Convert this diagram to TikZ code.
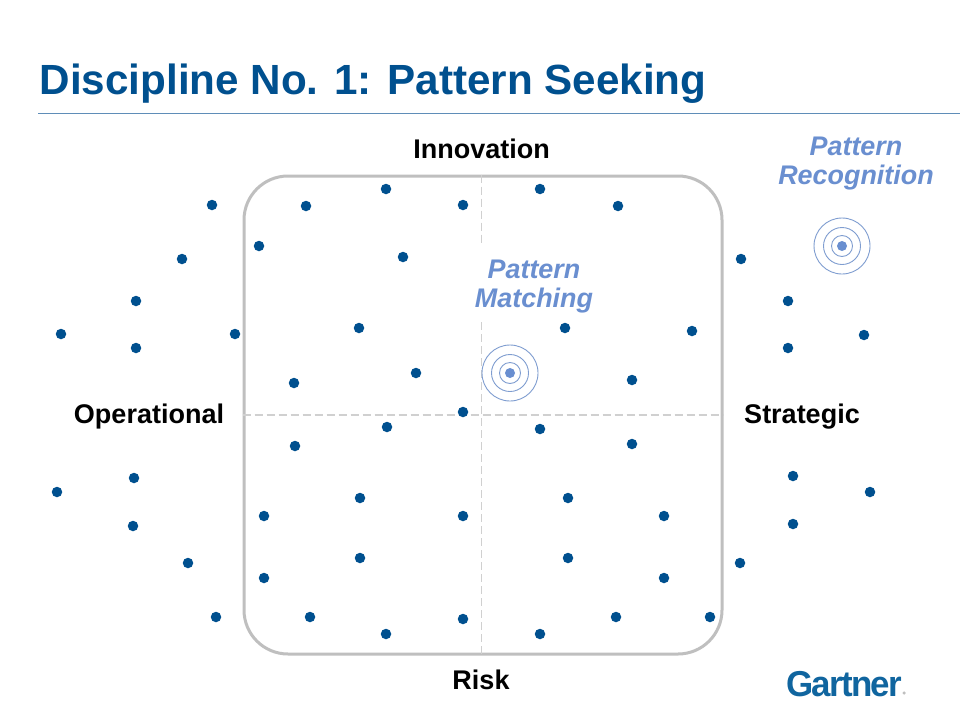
\documentclass[tikz,border=0pt]{standalone}
\usepackage{fontspec}
\setmainfont{Liberation Sans}
\newfontfamily\logofont[LetterSpace=-5,BoldFont={Liberation Sans Bold}]{Liberation Sans}
\definecolor{navy}{HTML}{00508F}
\definecolor{logoc}{HTML}{10659F}
\definecolor{lblue}{HTML}{6A8FD0}
\definecolor{ringc}{HTML}{7F9DD0}
\definecolor{boxgray}{HTML}{BFBFBF}
\definecolor{dashgray}{HTML}{D0D0D0}
\definecolor{rulec}{HTML}{5F8DB8}
\tikzset{
  dotm/.style={circle,fill=navy,inner sep=0pt,minimum size=10.5pt},
  axislabel/.style={font=\bfseries\fontsize{27}{32}\selectfont,text=black,inner sep=0pt},
  patlabel/.style={font=\bfseries\itshape\fontsize{26.9}{29}\selectfont,text=lblue,align=center,inner sep=0pt},
  ring/.style={draw=ringc,line width=0.9pt,fill=none},
  axisline/.style={draw=dashgray,line width=1.3pt,dash pattern=on 8pt off 4pt}
}
\begin{document}
\begin{tikzpicture}[x=1pt,y=-1pt]
\useasboundingbox (0,0) rectangle (960,720);
\fill[white] (0,0) rectangle (960,720);
\node[anchor=base west,inner sep=0pt,text=navy,font=\bfseries\fontsize{42.2}{48}\selectfont] (title) at (39.5,94) {Discipline No. 1: Pattern Seeking};
\coordinate (ruleL) at (38,113.5);
\coordinate (ruleR) at (960,113.5);
\draw[rulec,line width=0.9pt] (ruleL) -- (ruleR);
% quadrant box
\node[draw=boxgray,line width=3pt,rounded corners=44pt,minimum width=478pt,minimum height=478pt,inner sep=0pt] (box) at (483,415) {};
\coordinate (gapT) at (481.5,246);
\coordinate (gapB) at (481.5,322);
\draw[axisline] (box.north -| gapT) -- (gapT);
\draw[axisline] (gapB) -- (box.south -| gapB);
\draw[axisline] (box.west) -- (box.east);
% dots
\foreach \x/\y [count=\i] in {
212/205,182/259,136/301,136/348,61/334,235/334,
306/206,386/189,463/205,540/189,618/206,259/246,403/257,
741/259,788/301,788/348,864/335,692/331,565/328,359/328,
294/383,416/373,632/380,463/412,387/427,540/429,632/444,295/446,
134/478,57/492,133/526,188/563,216/617,
360/498,568/498,264/516,463/516,664/516,360/558,568/558,264/578,664/578,
793/476,870/492,793/524,740/563,710/617,
310/617,386/634,463/619,540/634,616/617}
  \node[dotm] (d\i) at (\x,\y) {};
% targets
\node[circle,fill=lblue,inner sep=0pt,minimum size=10pt] (t1) at (510,373) {};
\foreach \r in {28,18.5,10.5} \node[ring,circle,inner sep=0pt,minimum size=2*\r pt] at (t1) {};
\node[circle,fill=lblue,inner sep=0pt,minimum size=10pt] (t2) at (842,246) {};
\foreach \r in {28,18.5,10.5} \node[ring,circle,inner sep=0pt,minimum size=2*\r pt] at (t2) {};
% labels
\node[axislabel] (inn) at (481.5,149) {Innovation};
\node[axislabel] (risk) at (481,680) {Risk};
\node[axislabel] (op) at (149,417) {Operational};
\node[axislabel] (str) at (802,417) {Strategic};
\node[patlabel] (pm) at (534,287) {Pattern\\Matching};
\node[patlabel] (pr) at (856,164) {Pattern\\Recognition};
\node[anchor=base west,inner sep=0pt,text=logoc,font=\logofont\bfseries\fontsize{36}{40}\selectfont] (logo) at (786,696) {\scalebox{0.97}[1]{Gartner}};
\node[circle,fill=boxgray,inner sep=0pt,minimum size=3.5pt] (logodot) at (904,693) {};
\end{tikzpicture}
\end{document}
